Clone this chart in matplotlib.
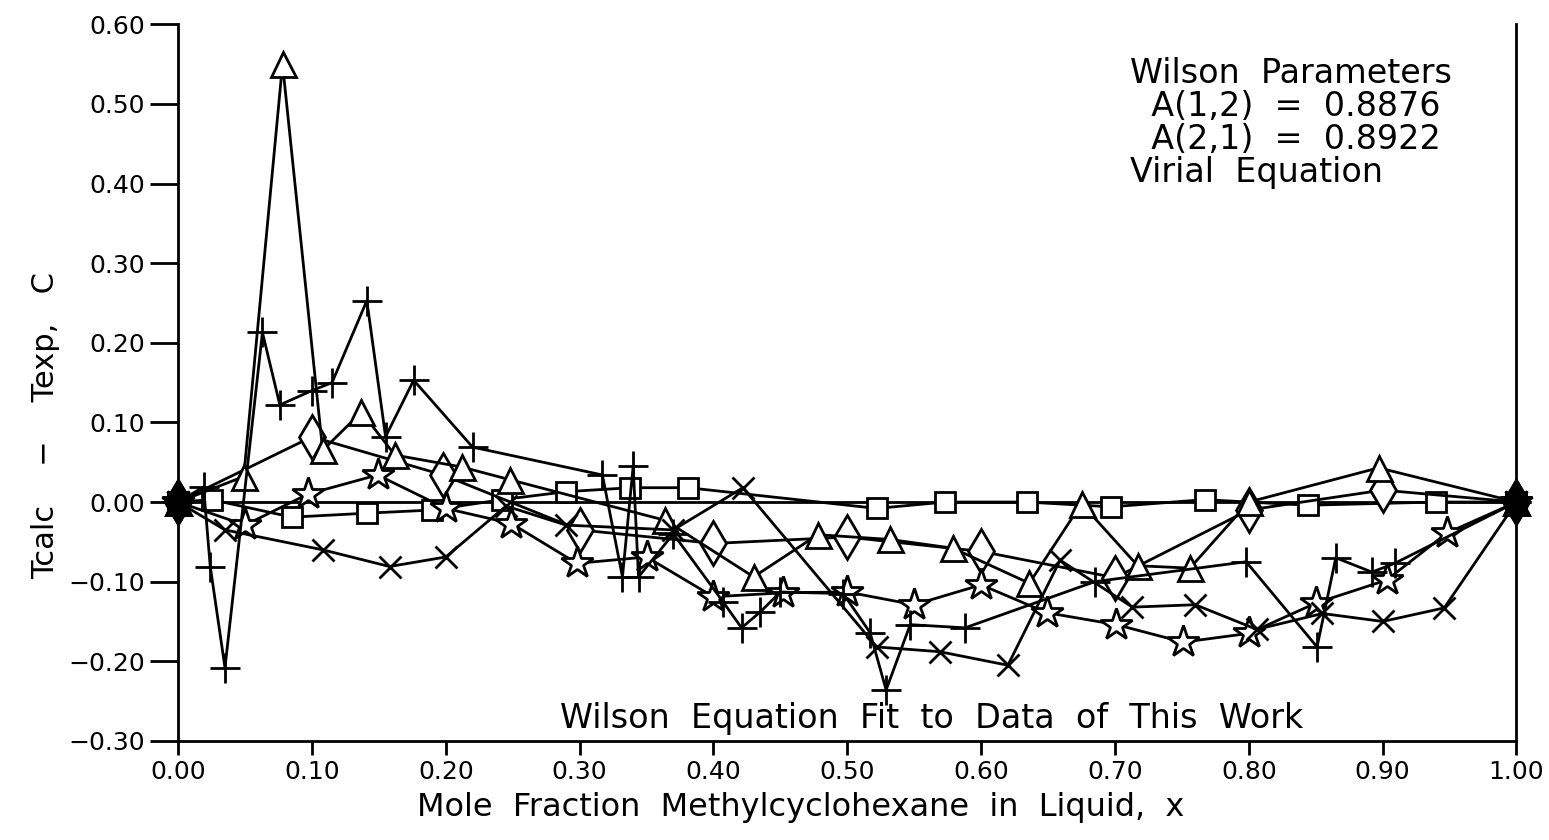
import matplotlib
matplotlib.use("Agg")
import matplotlib.pyplot as plt
from matplotlib.ticker import FuncFormatter, MultipleLocator

# deviation Tcalc - Texp (C) against liquid mole fraction, one list pair per data set
plus_x = [0.0, 0.019, 0.024, 0.035, 0.063, 0.076, 0.100, 0.115, 0.141, 0.155, 0.176,
          0.220, 0.317, 0.332, 0.340, 0.344, 0.370, 0.407, 0.421, 0.435, 0.450, 0.497,
          0.517, 0.529, 0.547, 0.588, 0.685, 0.798, 0.851, 0.865, 0.892, 0.909, 1.0]
plus_y = [0.0, 0.019, -0.081, -0.208, 0.213, 0.122, 0.140, 0.150, 0.253, 0.082, 0.153,
          0.069, 0.034, -0.094, 0.045, -0.094, -0.040, -0.125, -0.158, -0.138, -0.113, -0.115,
          -0.164, -0.236, -0.154, -0.158, -0.100, -0.075, -0.182, -0.070, -0.088, -0.077, 0.0]

tri_x = [0.0, 0.049, 0.078, 0.108, 0.137, 0.162, 0.212, 0.248, 0.364, 0.430, 0.478,
         0.532, 0.579, 0.636, 0.675, 0.717, 0.756, 0.800, 0.897, 1.0]
tri_y = [0.0, 0.032, 0.550, 0.065, 0.113, 0.059, 0.044, 0.028, -0.023, -0.094, -0.041,
         -0.047, -0.058, -0.102, -0.002, -0.080, -0.083, 0.000, 0.043, 0.0]

dia_x = [0.0, 0.100, 0.198, 0.300, 0.400, 0.500, 0.600, 0.700, 0.800, 0.900, 1.0]
dia_y = [0.0, 0.082, 0.034, -0.035, -0.052, -0.044, -0.062, -0.095, -0.010, 0.015, 0.0]

sq_x = [0.0, 0.025, 0.085, 0.141, 0.190, 0.242, 0.290, 0.338, 0.381, 0.522, 0.573,
        0.634, 0.697, 0.767, 0.844, 0.940, 1.0]
sq_y = [0.0, 0.003, -0.019, -0.014, -0.010, 0.003, 0.013, 0.018, 0.018, -0.008, 0.000,
        0.000, -0.006, 0.003, -0.004, 0.000, 0.0]

cross_x = [0.0, 0.035, 0.108, 0.158, 0.200, 0.245, 0.290, 0.370, 0.422, 0.522, 0.569,
           0.620, 0.659, 0.713, 0.760, 0.806, 0.855, 0.900, 0.946, 1.0]
cross_y = [0.0, -0.035, -0.060, -0.081, -0.069, -0.005, -0.029, -0.035, 0.018, -0.182, -0.188,
           -0.205, -0.073, -0.132, -0.129, -0.160, -0.140, -0.150, -0.133, 0.0]

star_x = [0.0, 0.050, 0.097, 0.149, 0.200, 0.249, 0.298, 0.350, 0.400, 0.452, 0.500,
          0.550, 0.600, 0.649, 0.701, 0.751, 0.800, 0.850, 0.903, 0.948, 1.0]
star_y = [0.0, -0.029, 0.010, 0.034, -0.008, -0.027, -0.077, -0.069, -0.119, -0.114, -0.113,
          -0.129, -0.104, -0.139, -0.154, -0.176, -0.165, -0.127, -0.098, -0.039, 0.0]

series = [
    (sq_x, sq_y, "s", 15),
    (dia_x, dia_y, "d", 22),
    (tri_x, tri_y, "^", 18),
    (star_x, star_y, "*", 24),
    (cross_x, cross_y, "x", 16),
    (plus_x, plus_y, "+", 22),
]

fig = plt.figure(figsize=(15.49, 8.40), dpi=100)
ax = fig.add_axes([0.115, 0.118, 0.864, 0.853])

lw = 2.0
ax.axhline(0.0, color="black", lw=lw, zorder=1)
for xs, ys, mk, size in series:
    ax.plot(xs, ys, color="black", lw=lw, marker=mk, ms=size,
            markerfacecolor="white", markeredgecolor="black",
            markeredgewidth=lw, clip_on=False)
# the pure-component end points all pile up into one dark spot
for xs, ys, mk, size in series:
    ax.plot([xs[0], xs[-1]], [ys[0], ys[-1]], ls="none", marker=mk, ms=size,
            color="black", markeredgewidth=lw, clip_on=False, zorder=4)

ax.set_xlim(0.0, 1.0)
ax.set_ylim(-0.30, 0.60)
ax.xaxis.set_major_locator(MultipleLocator(0.10))
ax.yaxis.set_major_locator(MultipleLocator(0.10))
fmt = FuncFormatter(lambda v, pos: f"{v:.2f}".replace("-", "\u2212"))
ax.xaxis.set_major_formatter(fmt)
ax.yaxis.set_major_formatter(fmt)

for side in ["left", "bottom", "right"]:
    ax.spines[side].set_linewidth(lw)
ax.spines["top"].set_visible(False)
ax.tick_params(axis="both", direction="out", width=lw, labelsize=18, pad=4)
ax.tick_params(axis="y", length=20)
ax.tick_params(axis="x", length=10)

ax.set_xlabel("Mole  Fraction  Methylcyclohexane  in  Liquid,  x", fontsize=23)
ax.xaxis.set_label_coords(0.465, -0.072)
ax.set_ylabel("Tcalc    \u2212    Texp,   C", fontsize=22)
ax.yaxis.set_label_coords(-0.088, 0.44)

ax.text(0.563, 0.008, "Wilson  Equation  Fit  to  Data  of  This  Work",
        transform=ax.transAxes, ha="center", va="bottom", fontsize=24)
ax.text(0.711, 0.955, "Wilson  Parameters\n  A(1,2)  =  0.8876\n  A(2,1)  =  0.8922\nVirial  Equation",
        transform=ax.transAxes, ha="left", va="top", fontsize=24, linespacing=1.0)

fig.savefig("out.png", dpi=100)
